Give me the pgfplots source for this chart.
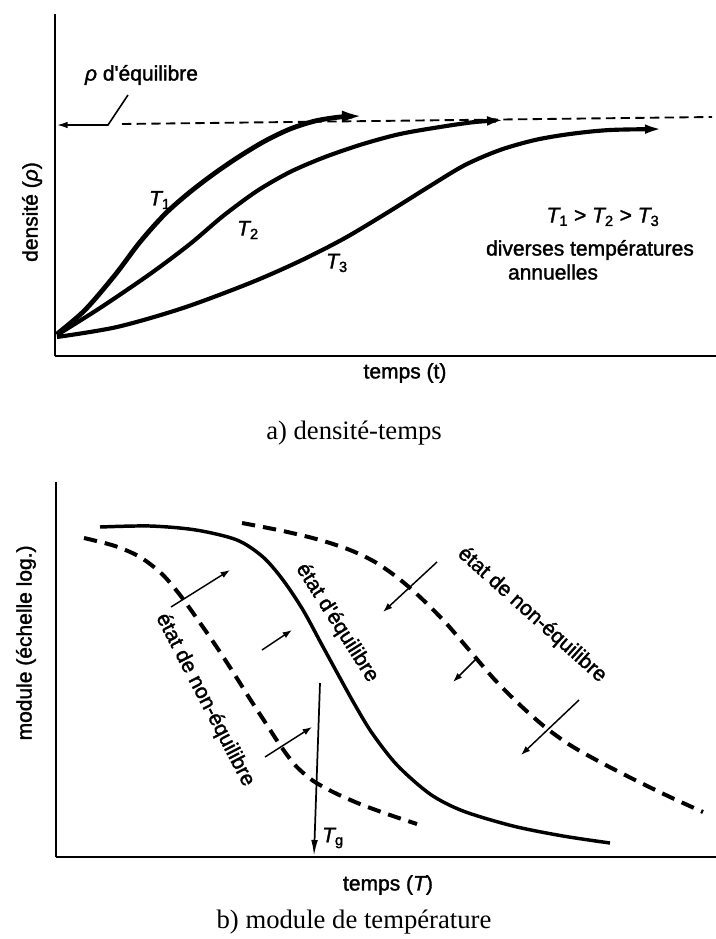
\documentclass[border=0pt]{standalone}
\usepackage{fontspec}
\setmainfont{Liberation Serif}
\newfontfamily\lab{Liberation Sans}[FakeBold=1.6]
\usepackage{pgfplots}
\pgfplotsset{compat=1.18}
\usetikzlibrary{arrows.meta}
\newcommand{\labsize}{\lab\fontsize{15.75}{18}\selectfont}
\newcommand{\capsize}{\fontsize{20}{24}\selectfont}
\begin{document}
\begin{tikzpicture}
\useasboundingbox (0,0) rectangle (537pt,-704.25pt);
% ---------------- a) densite-temps ----------------
\begin{axis}[
  at={(289.125pt,-138.75pt)}, anchor=center,
  scale only axis, width=495.75pt, height=256.5pt,
  xmin=55, xmax=716, ymin=-356, ymax=-14,
  axis lines=left, axis line style={-, line width=2pt},
  xtick=\empty, ytick=\empty,
  clip=false,
  xlabel={temps (t)}, ylabel={densité ({\itshape ρ})},
  label style={font=\labsize},
  xlabel style={at={(axis description cs:0.5295,-0.0497)}, anchor=center},
  ylabel style={at={(axis description cs:-0.0348,0.421)}, anchor=center},
]
% equilibrium density (dashed)
\addplot[line width=1.4pt, dash pattern=on 7pt off 4pt] coordinates {(122,-124) (712,-117)};
% leader + arrow to axis
\addplot[line width=1.2pt, -{Latex[length=8pt,width=5pt]}] coordinates {(128,-95) (108,-125) (57,-125)};
% T1
\addplot[line width=3.6pt, smooth, -{Latex[length=15pt,width=9pt]}] coordinates {
(57,-334) (85,-310) (115,-275) (140,-242) (165,-214) (190,-192) (215,-173) (240,-156) (265,-141) (290,-129) (315,-121) (340,-117) (362,-116)};
% T2
\addplot[line width=3.1pt, smooth, -{Latex[length=15pt,width=7pt]}] coordinates {
(57,-335) (100,-308) (150,-274) (190,-244) (223,-216) (257,-191) (290,-172) (325,-157) (363,-144) (400,-134) (440,-127) (475,-122) (507,-120)};
% T3
\addplot[line width=3.1pt, smooth, -{Latex[length=15pt,width=7pt]}] coordinates {
(57,-337) (117,-327) (183,-308) (250,-283) (300,-261) (345,-238) (390,-211) (430,-186) (465,-165) (500,-150) (535,-140) (570,-134) (610,-130) (665,-129)};
\node[font=\labsize] at (axis cs:160,-200) {{\itshape T}\textsubscript{1}};
\node[font=\labsize] at (axis cs:248,-230) {{\itshape T}\textsubscript{2}};
\node[font=\labsize] at (axis cs:337,-263) {{\itshape T}\textsubscript{3}};
\node[font=\labsize] at (axis cs:141.5,-75) {{\itshape ρ} d'équilibre};
\node[font=\labsize] at (axis cs:603,-217) {{\itshape T}\textsubscript{1} > {\itshape T}\textsubscript{2} > {\itshape T}\textsubscript{3}};
\node[font=\labsize] at (axis cs:590,-250) {diverses températures};
\node[font=\labsize] at (axis cs:553,-272) {annuelles};
\node[font=\capsize] at (axis cs:354,-433) {a) densité-temps};
\end{axis}
% ---------------- b) module de temperature ----------------
\begin{axis}[
  at={(289.5pt,-502.125pt)}, anchor=center,
  scale only axis, width=495pt, height=281.25pt,
  xmin=56, xmax=716, ymin=-857, ymax=-482,
  axis lines=left, axis line style={-, line width=2pt},
  xtick=\empty, ytick=\empty,
  clip=false,
  xlabel={temps ({\itshape T})}, ylabel={module (échelle log.)},
  label style={font=\labsize},
  xlabel style={at={(axis description cs:0.503,-0.0747)}, anchor=center},
  ylabel style={at={(axis description cs:-0.0455,0.571)}, anchor=center},
]
% equilibrium state (solid)
\addplot[line width=2.6pt, smooth] coordinates {
(100,-527) (150,-526) (196,-530) (237,-540) (263,-557) (283,-580) (303,-610) (322,-645) (340,-678) (355,-705) (372,-733) (397,-765) (430,-794) (463,-811) (513,-826) (563,-836) (610,-843)};
% non-equilibrium (left, dashed)
\addplot[line width=3pt, smooth, dash pattern=on 10pt off 6pt] coordinates {
(84,-538) (115,-546) (140,-557) (162,-574) (180,-595) (198,-620) (216,-646) (233,-672) (250,-699) (265,-722) (280,-745) (295,-765) (312,-780) (333,-792) (360,-804) (390,-815) (417,-824)};
% non-equilibrium (right, dashed)
\addplot[line width=3pt, smooth, dash pattern=on 10pt off 6pt] coordinates {
(242,-523) (283,-531) (320,-540) (350,-550) (375,-562) (398,-578) (420,-597) (445,-622) (470,-651) (495,-680) (520,-705) (545,-727) (570,-745) (600,-762) (635,-780) (670,-797) (703,-812)};
% Tg arrow
\addplot[line width=1.3pt, -{Latex[length=12pt,width=5pt]}] coordinates {(320,-683) (314,-856)};
% small arrows (left)
\addplot[line width=1.1pt, -{Latex[length=7pt,width=5pt]}] coordinates {(171,-607) (230,-570)};
\addplot[line width=1.1pt, -{Latex[length=7pt,width=5pt]}] coordinates {(262,-650) (292,-630)};
\addplot[line width=1.1pt, -{Latex[length=7pt,width=5pt]}] coordinates {(265,-757) (312,-727)};
% small arrows (right)
\addplot[line width=1.1pt, -{Latex[length=7pt,width=5pt]}] coordinates {(437,-562) (383,-612)};
\addplot[line width=1.1pt, -{Latex[length=7pt,width=5pt]}] coordinates {(477,-658) (453,-682)};
\addplot[line width=1.1pt, -{Latex[length=7pt,width=5pt]}] coordinates {(579,-700) (521,-755)};
\node[font=\labsize] at (axis cs:333,-838) {{\itshape T}\textsubscript{g}};
\node[font=\labsize, rotate=-62.6] at (axis cs:205,-700) {état de non-équilibre};
\node[font=\labsize, rotate=-57.6] at (axis cs:337,-623) {état d'équilibre};
\node[font=\labsize, rotate=-41.8] at (axis cs:532,-615) {état de non-équilibre};
\node[font=\capsize] at (axis cs:354,-922) {b) module de température};
\end{axis}
\end{tikzpicture}
\end{document}
